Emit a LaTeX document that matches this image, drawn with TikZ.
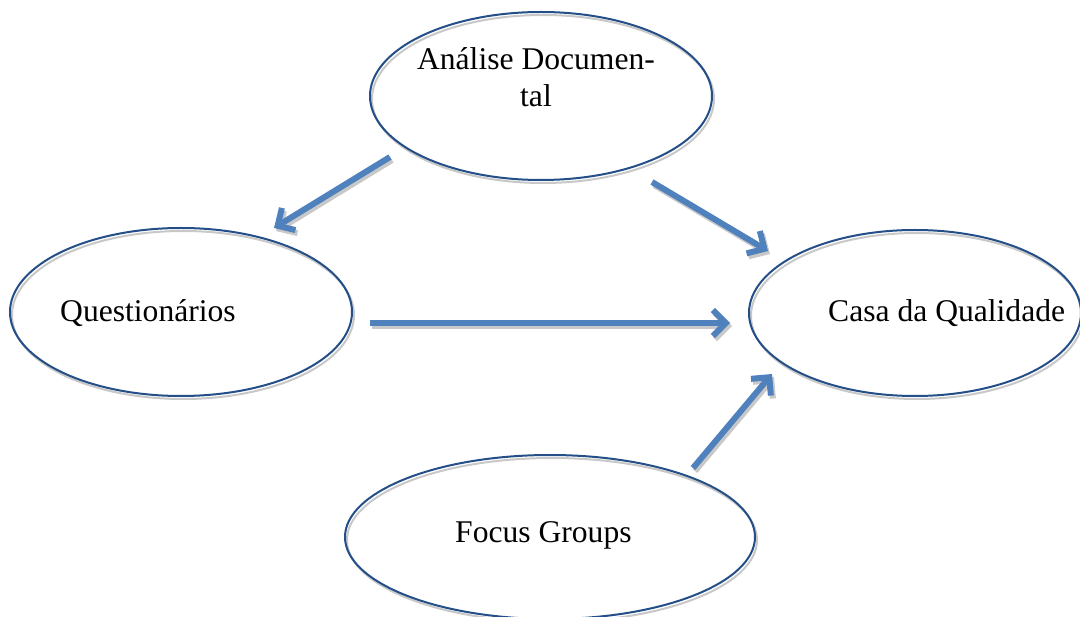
\documentclass[tikz,border=0pt]{standalone}
\usepackage{fontspec}
\setmainfont{Liberation Serif}
\usetikzlibrary{shapes.geometric,arrows.meta}

\definecolor{rimblue}{RGB}{35,78,135}
\definecolor{arrowblue}{RGB}{79,129,189}
\definecolor{shadowgrey}{RGB}{200,200,200}

\tikzset{
  bubble/.style={ellipse, draw=rimblue, line width=2pt, inner sep=0pt,
    preaction={draw=shadowgrey, line width=2pt,
      transform canvas={shift={(2pt,-3pt)}}}},
  label text/.style={font=\fontsize{31.6}{37}\selectfont, inner sep=0pt},
  flow/.style={draw=arrowblue, line width=6pt,
    -{Straight Barb[length=13pt,width=26pt]},
    preaction={draw=shadowgrey, line width=6pt,
      -{Straight Barb[length=13pt,width=26pt]},
      transform canvas={shift={(2pt,-3pt)}}}}
}

\begin{document}
\begin{tikzpicture}[x=1pt,y=-1pt]
  \useasboundingbox (0,0) rectangle (1080,617);
  \clip (0,0) rectangle (1080,617);

  % the four sources/targets
  \node[bubble, minimum width=342pt, minimum height=168pt] (doc)  at (541,96)  {};
  \node[bubble, minimum width=342pt, minimum height=168pt] (quest) at (181,312) {};
  \node[bubble, minimum width=332pt, minimum height=166pt] (casa) at (915,313) {};
  \node[bubble, minimum width=410pt, minimum height=164pt] (focus) at (550,537) {};

  % their labels (base of a two-line node is the last line)
  \node[label text, align=center, anchor=base] (doctext) at (536,107) {Análise Documen-\\tal};
  \node[label text, anchor=base west] (questtext) at (60,322) {Questionários};
  \node[label text, anchor=base west] (casatext) at (828,322) {Casa da Qualidade};
  \node[label text, anchor=base west] (focustext) at (455,543) {Focus Groups};

  % arrow ends
  \coordinate (dq1) at (390,157);  \coordinate (dq2) at (274,228);
  \coordinate (dc1) at (652,182);  \coordinate (dc2) at (768,251);
  \coordinate (qc1) at (370,323);  \coordinate (qc2) at (730,323);
  \coordinate (fc1) at (693,468);  \coordinate (fc2) at (772,374);

  \draw[flow] (dq1) -- (dq2);
  \draw[flow] (dc1) -- (dc2);
  \draw[flow] (qc1) -- (qc2);
  \draw[flow] (fc1) -- (fc2);
\end{tikzpicture}
\end{document}
